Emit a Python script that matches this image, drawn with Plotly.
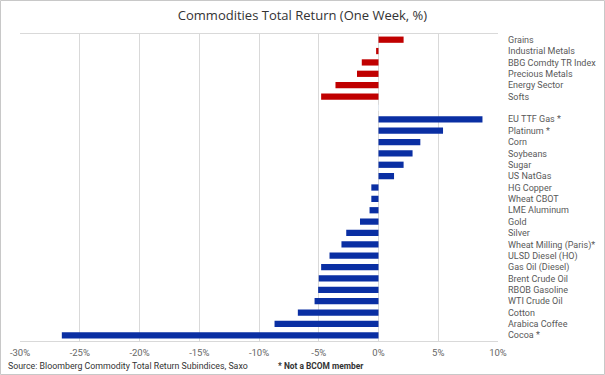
import plotly.graph_objects as go

# Data (one-week total return, %)
index_names = ["Grains", "Industrial Metals", "BBG Comdty TR Index",
               "Precious Metals", "Energy Sector", "Softs"]
index_values = [2.1, -0.2, -1.4, -1.8, -3.6, -4.8]

commodity_names = ["EU TTF Gas *", "Platinum *", "Corn", "Soybeans", "Sugar",
                   "US NatGas", "HG Copper", "Wheat CBOT", "LME Aluminum", "Gold",
                   "Silver", "Wheat Milling (Paris)*", "ULSD Diesel (HO)",
                   "Gas Oil (Diesel)", "Brent Crude Oil", "RBOB Gasoline",
                   "WTI Crude Oil", "Cotton", "Arabica Coffee", "Cocoa *"]
commodity_values = [8.7, 5.4, 3.5, 2.85, 2.1, 1.3, -0.6, -0.6, -0.75, -1.55,
                    -2.7, -3.1, -4.1, -4.8, -5.0, -5.05, -5.35, -6.75, -8.7, -26.5]

tick_vals = [-30, -25, -20, -15, -10, -5, 0, 5, 10]
tick_text = ["-30%", "-25%", "-20%", "-15%", "-10%", "-5%", "0%", "5%", "10%"]

spacer = " "
category_order = index_names + [spacer] + commodity_names

fig = go.Figure()
fig.add_trace(go.Bar(
    y=index_names, x=index_values, orientation="h",
    marker=dict(color="#C00000", line=dict(width=0)),
    hoverinfo="x+y",
))
fig.add_trace(go.Bar(
    y=commodity_names, x=commodity_values, orientation="h",
    marker=dict(color="#0A2FA3", line=dict(width=0)),
    hoverinfo="x+y",
))
# Placeholder so the spacer category exists
fig.add_trace(go.Bar(y=[spacer], x=[0], orientation="h",
                     marker=dict(color="rgba(0,0,0,0)"), hoverinfo="skip"))

W, H = 605, 375
ml, mr, mt, mb = 20, 107, 34, 34
pw, ph = W - ml - mr, H - mt - mb

fig.update_layout(
    width=W, height=H,
    margin=dict(l=ml, r=mr, t=mt, b=mb, pad=0, autoexpand=False),
    paper_bgcolor="white", plot_bgcolor="white",
    showlegend=False,
    barmode="overlay",
    bargap=0.45,
    font=dict(family="Roboto, Open Sans, sans-serif", color="#595959"),
    title=dict(text="Commodities Total Return (One Week, %)",
               x=0.5, xanchor="center", y=1 - 15 / H, yanchor="middle",
               font=dict(size=13, color="#333333", family="Open Sans, Roboto, sans-serif")),
    xaxis=dict(
        range=[-30, 10], tickvals=tick_vals, ticktext=tick_text,
        showgrid=True, gridcolor="#D9D9D9", gridwidth=1,
        zeroline=True, zerolinecolor="#D9D9D9", zerolinewidth=1,
        showline=True, linecolor="#D9D9D9", linewidth=1, mirror=True,
        ticks="", tickfont=dict(size=9.5, color="#666666"),
        ticklabelstandoff=3, fixedrange=True, automargin=False,
    ),
    yaxis=dict(
        categoryorder="array", categoryarray=category_order,
        side="right",
        showgrid=False, ticks="", showline=False,
        tickfont=dict(size=9, color="#595959"),
        ticklabelstandoff=9, fixedrange=True, automargin=False,
        range=[len(category_order) - 0.5, -0.5],
    ),
)

# Footer texts
fig.add_annotation(text="Source: Bloomberg Commodity Total Return Subindices, Saxo",
                   xref="paper", yref="paper",
                   x=(6 - ml) / pw, y=-(366 - (H - mb)) / ph,
                   xanchor="left", yanchor="middle", showarrow=False,
                   font=dict(size=8.8, color="#333333",
                             family="Liberation Sans Narrow, Roboto, sans-serif"))
fig.add_annotation(text="<b>* Not a BCOM member</b>",
                   xref="paper", yref="paper",
                   x=(276 - ml) / pw, y=-(366 - (H - mb)) / ph,
                   xanchor="left", yanchor="middle", showarrow=False,
                   font=dict(size=8.4, color="#333333",
                             family="Liberation Sans Narrow, Roboto, sans-serif"))

# Outer frame of the image
fig.add_shape(type="rect", xref="paper", yref="paper",
              x0=(0.5 - ml) / pw, x1=(W - 0.5 - ml) / pw,
              y0=-(mb - 0.5) / ph, y1=1 + (mt - 0.5) / ph,
              line=dict(color="#C8C8C8", width=1), fillcolor="rgba(0,0,0,0)",
              layer="below")

fig.write_html("out.html", config={"displayModeBar": False},
               post_script="document.body.style.margin='0';document.body.style.overflow='hidden';")
